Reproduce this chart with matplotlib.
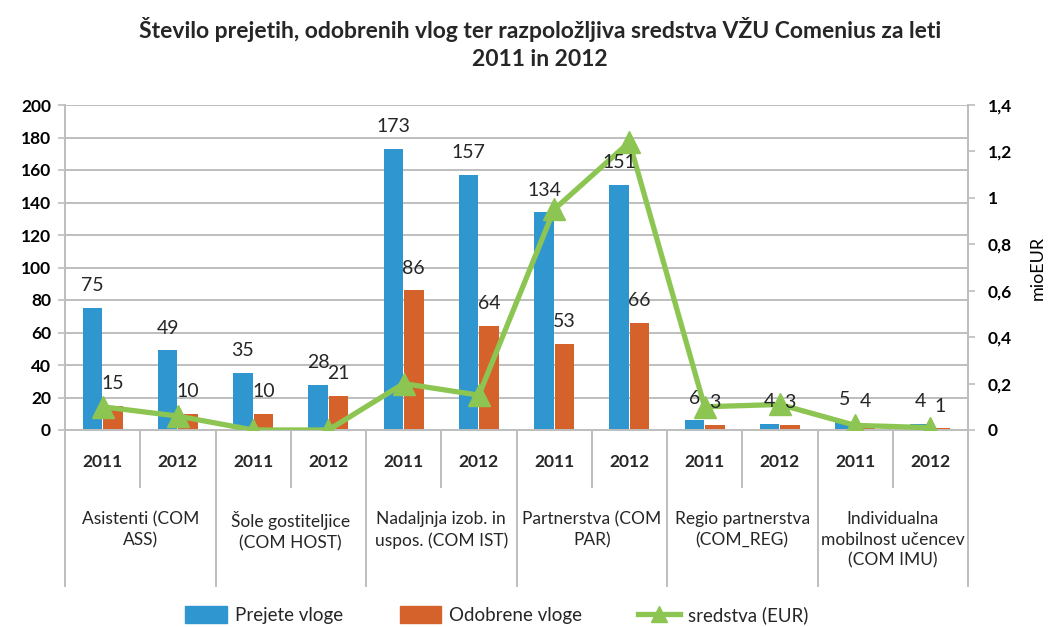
import matplotlib
matplotlib.use("Agg")
import matplotlib.pyplot as plt
from matplotlib import font_manager
from matplotlib.lines import Line2D
from matplotlib.patches import Patch
from matplotlib.ticker import FuncFormatter
import matplotlib.transforms as mtrans
import numpy as np

# data
years = ["2011", "2012"] * 6
groups = ["Asistenti (COM\nASS)", "Šole gostiteljice\n(COM HOST)",
          "Nadaljnja izob. in\nuspos. (COM IST)", "Partnerstva (COM\nPAR)",
          "Regio partnerstva\n(COM_REG)", "Individualna\nmobilnost učencev\n(COM IMU)"]
prejete = [75, 49, 35, 28, 173, 157, 134, 151, 6, 4, 5, 4]
odobrene = [15, 10, 10, 21, 86, 64, 53, 66, 3, 3, 4, 1]
sredstva = [0.10, 0.06, 0.0, 0.0, 0.20, 0.15, 0.95, 1.24, 0.10, 0.11, 0.02, 0.01]

blue = "#2F96D0"
orange = "#D5622B"
green = "#8DC552"
grid_c = "#BEBEBE"
txt = "#262626"

installed = {f.name for f in font_manager.fontManager.ttflist}
narrow = "Liberation Sans Narrow" if "Liberation Sans Narrow" in installed else "Lato"
plt.rcParams["font.family"] = [narrow, "DejaVu Sans"]
plt.rcParams["text.color"] = txt

fig = plt.figure(figsize=(10.61, 6.27), dpi=100)
ax = fig.add_axes([65 / 1061, 1 - 430 / 627, 903 / 1061, 325 / 627])
ax2 = ax.twinx()

x = np.arange(len(prejete))
w = 0.26
b1 = ax.bar(x - 0.135, prejete, w, color=blue, zorder=2)
b2 = ax.bar(x + 0.135, odobrene, w, color=orange, zorder=2)

ax2.plot(x, sredstva, color=green, lw=3.8, marker="^", ms=16, zorder=3)

ax.set_xlim(-0.5, len(x) - 0.5)
ax.set_ylim(0, 200)
ax.set_yticks(range(0, 201, 20))
ax2.set_ylim(0, 1.4)
ax2.set_yticks(np.arange(0, 1.41, 0.2))
ax2.yaxis.set_major_formatter(FuncFormatter(lambda v, p: f"{v:.1f}".rstrip("0").rstrip(".").replace(".", ",")))

ax.set_axisbelow(True)
ax.yaxis.grid(True, color=grid_c, lw=1.4)
ax.set_xticks([])
for a in (ax, ax2):
    for s in a.spines.values():
        s.set_color(grid_c)
        s.set_linewidth(1.4)
    a.spines["top"].set_visible(False)
ax.tick_params(axis="y", length=5, width=1.2, color=grid_c, pad=5, labelsize=12.5)
ax2.tick_params(axis="y", length=5, width=1.2, color=grid_c, pad=9, labelsize=12.5)
for lab in ax.get_yticklabels() + ax2.get_yticklabels():
    lab.set_fontweight("bold")
ax2.set_ylabel("mioEUR", fontsize=13, labelpad=13)

# value labels above the bars, drawn on top of the line
for bars, vals in ((b1, prejete), (b2, odobrene)):
    for r, v in zip(bars, vals):
        ax2.annotate(str(v), xy=(r.get_x() + r.get_width() / 2, v), xycoords=ax.transData,
                     xytext=(0, 16), textcoords="offset points",
                     ha="center", va="center", fontsize=14, zorder=5)

# category axis below the plot
trans = mtrans.blended_transform_factory(ax.transData, ax.transAxes)
for i in range(len(x) + 1):
    bottom = -0.48 if i % 2 == 0 else -0.175
    ax.add_line(Line2D([i - 0.5, i - 0.5], [0, bottom], transform=trans,
                       color=grid_c, lw=1.4, clip_on=False))
for i, yr in enumerate(years):
    ax.text(i, -0.098, yr, transform=trans, ha="center", va="center",
            fontsize=12.5, fontweight="bold")
for g, name in enumerate(groups):
    ax.text(2 * g + 0.5, -0.25, name, transform=trans, ha="center", va="top",
            fontsize=12.5, linespacing=1.35)

fig.text(540 / 1061, 1 - 30 / 627, "Število prejetih, odobrenih vlog ter razpoložljiva sredstva VŽU Comenius za leti",
         ha="center", va="center", fontsize=16.5, fontweight="bold")
fig.text(540 / 1061, 1 - 60 / 627, "2011 in 2012", ha="center", va="center",
         fontsize=16.5, fontweight="bold")

handles = [Patch(color=blue), Patch(color=orange),
           Line2D([], [], color=green, lw=3.8, marker="^", ms=12)]
fig.legend(handles, ["Prejete vloge", "Odobrene vloge", "sredstva (EUR)"],
           loc="center", bbox_to_anchor=(497 / 1061, 1 - 615 / 627), ncol=3,
           frameon=False, fontsize=13.5, handlelength=2.2, handleheight=1.0,
           columnspacing=3.0, handletextpad=0.45)

fig.savefig("out.png", dpi=100)
